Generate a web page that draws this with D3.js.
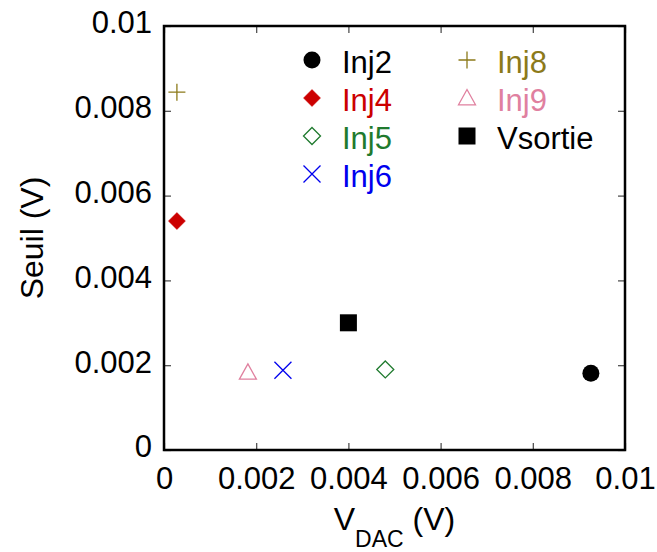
<!DOCTYPE html>
<meta charset="utf-8">
<style>
body { margin: 0; background: #fff; }
text { font-family: "Liberation Sans", Arial, sans-serif; }
</style>
<svg width="657" height="552"></svg>
<script src="https://d3js.org/d3.v7.min.js"></script>
<script>

// series: name, x (V_DAC), y (Seuil)
var names  = ["Inj2", "Inj4", "Inj5", "Inj6", "Inj8", "Inj9", "Vsortie"];
var xVals  = [0.00926, 0.00028, 0.0048, 0.00258, 0.00028, 0.00182, 0.0040];
var yVals  = [0.00181, 0.0054, 0.0019, 0.00188, 0.00844, 0.00183, 0.0030];
var colors = ["#000000", "#cc0000", "#1f7a2e", "#0000ee", "#8c7a1a", "#e0809f", "#000000"];
var shapes = ["circle", "diamondFill", "diamondOpen", "cross", "plus", "triangle", "square"];

var xTicks = [0, 0.002, 0.004, 0.006, 0.008, 0.01];
var yTicks = [0, 0.002, 0.004, 0.006, 0.008, 0.01];

var svg = d3.select("svg"),
    margin = {top: 26, right: 32, bottom: 102, left: 164},
    width = +svg.attr("width") - margin.left - margin.right,
    height = +svg.attr("height") - margin.top - margin.bottom,
    g = svg.append("g").attr("transform", "translate(" + margin.left + "," + margin.top + ")");

var x = d3.scaleLinear().domain([0, 0.01]).range([0, width]);
var y = d3.scaleLinear().domain([0, 0.01]).range([height, 0]);

var fmt = function(d) { return d === 0 ? "0" : String(+d.toFixed(3)); };
var tickLen = 7;

// ticks (inward, mirrored)
function ticks(sel) {
  sel.selectAll("line").attr("stroke", "#444").attr("stroke-width", 1.2);
  sel.select(".domain").remove();
  sel.selectAll("text").attr("font-size", 31).attr("fill", "#000");
}
g.append("g").attr("transform", "translate(0," + height + ")")
  .call(d3.axisBottom(x).tickValues(xTicks).tickFormat(fmt).tickSize(-tickLen).tickPadding(16.5))
  .call(ticks);
g.append("g")
  .call(d3.axisTop(x).tickValues(xTicks).tickFormat("").tickSize(-tickLen))
  .call(ticks);
g.append("g")
  .call(d3.axisLeft(y).tickValues(yTicks).tickFormat(fmt).tickSize(-tickLen).tickPadding(12))
  .call(ticks)
  .selectAll("text").attr("dy", "0.22em");
g.append("g").attr("transform", "translate(" + width + ",0)")
  .call(d3.axisRight(y).tickValues(yTicks).tickFormat("").tickSize(-tickLen))
  .call(ticks);

g.append("rect")
  .attr("width", width).attr("height", height)
  .attr("fill", "none").attr("stroke", "#000").attr("stroke-width", 2.5);

// marker drawing
function marker(sel, shape, color) {
  var s = 17;
  if (shape === "circle") {
    sel.append("circle").attr("r", s / 2).attr("fill", color);
  } else if (shape === "square") {
    sel.append("rect").attr("x", -s / 2).attr("y", -s / 2).attr("width", s).attr("height", s).attr("fill", color);
  } else if (shape === "diamondFill" || shape === "diamondOpen") {
    var h = s / 2;
    sel.append("path").attr("d", "M0," + (-h) + "L" + h + ",0L0," + h + "L" + (-h) + ",0Z")
      .attr("fill", shape === "diamondFill" ? color : "none")
      .attr("stroke", color).attr("stroke-width", shape === "diamondFill" ? 0.5 : 1.3);
  } else if (shape === "cross") {
    var c = s / 2;
    sel.append("path").attr("d", "M" + (-c) + "," + (-c) + "L" + c + "," + c + "M" + (-c) + "," + c + "L" + c + "," + (-c))
      .attr("stroke", color).attr("stroke-width", 1.3).attr("fill", "none");
  } else if (shape === "plus") {
    var p = s / 2;
    sel.append("path").attr("d", "M" + (-p) + ",0L" + p + ",0M0," + (-p) + "L0," + p)
      .attr("stroke", color).attr("stroke-width", 1.3).attr("fill", "none");
  } else if (shape === "triangle") {
    var t = s / 2;
    sel.append("path").attr("d", "M0," + (-t) + "L" + t + "," + (t * 0.8) + "L" + (-t) + "," + (t * 0.8) + "Z")
      .attr("stroke", color).attr("stroke-width", 1.3).attr("fill", "none");
  }
}

// points
names.forEach(function(n, i) {
  var pt = g.append("g").attr("transform", "translate(" + x(xVals[i]) + "," + y(yVals[i]) + ")");
  marker(pt, shapes[i], colors[i]);
});

// legend
var legCol = [148, 303], legRow0 = 34, legStep = 38;
names.forEach(function(n, i) {
  var col = i < 4 ? 0 : 1, row = i < 4 ? i : i - 4;
  var lg = g.append("g").attr("transform", "translate(" + legCol[col] + "," + (legRow0 + row * legStep) + ")");
  marker(lg, shapes[i], colors[i]);
  lg.append("text").attr("x", 30).attr("dy", "0.42em")
    .attr("font-size", 31).attr("fill", colors[i]).text(n);
});

// axis titles
var xl = svg.append("text").attr("x", margin.left + width / 2).attr("y", 530)
  .attr("text-anchor", "middle").attr("font-size", 32);
xl.append("tspan").text("V");
xl.append("tspan").attr("font-size", 23).attr("dy", 17).text("DAC");
xl.append("tspan").attr("dy", -17).text(" (V)");

svg.append("text")
  .attr("transform", "translate(43," + (margin.top + height / 2) + ") rotate(-90)")
  .attr("text-anchor", "middle").attr("font-size", 32).text("Seuil (V)");

</script>
